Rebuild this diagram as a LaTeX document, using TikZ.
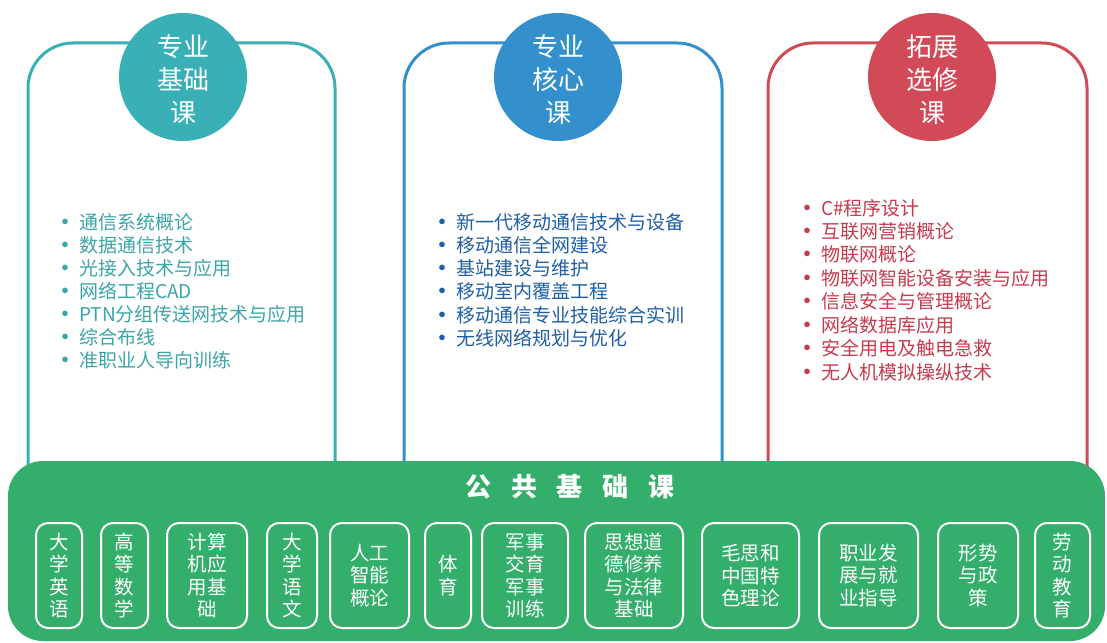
\documentclass[tikz,border=0pt]{standalone}
\usepackage{fontspec}
\setmainfont{Noto Sans CJK SC}
\definecolor{tealc}{RGB}{56,176,182}
\definecolor{bluec}{RGB}{52,144,204}
\definecolor{redc}{RGB}{210,74,88}
\definecolor{greenc}{RGB}{51,174,107}
\definecolor{tealt}{RGB}{60,165,168}
\definecolor{bluet}{RGB}{30,95,165}
\definecolor{redt}{RGB}{200,58,78}
\tikzset{
  panel/.style={line width=3pt, rounded corners=45pt},
  circ/.style={circle, inner sep=0pt, minimum size=128pt},
  circtext/.style={text=white, align=center, font=\fontsize{26}{33}\selectfont, inner sep=0pt},
  item/.style={anchor=west, inner sep=0pt, font=\fontsize{19}{23}\selectfont},
  pbox/.style={draw=white, line width=2pt, rounded corners=12pt, minimum height=105pt,
     inner sep=0pt, align=center, text=white, font=\fontsize{19.5}{22.5}\selectfont},
}
\newcommand{\bul}{\makebox[24pt][l]{\fontsize{20}{20}\selectfont\bfseries •}}
\begin{document}
\begin{tikzpicture}[x=1pt,y=-1pt]
\useasboundingbox (0,0) rectangle (1107,642);
\fill[white] (0,0) rectangle (1107,642);
% panels
\draw[panel, draw=tealc] (28,470) -- (28,43) -- (335,43) -- (335,470);
\draw[panel, draw=bluec] (404,470) -- (404,43) -- (722,43) -- (722,470);
\draw[panel, draw=redc] (768,470) -- (768,43) -- (1087,43) -- (1087,470);
% circles
\node[circ, fill=tealc] (c1) at (183,77) {};
\node[circ, fill=bluec] (c2) at (558,77) {};
\node[circ, fill=redc] (c3) at (932,77) {};
\node[circtext] (t1) at (183,80) {专业\\基础\\课};
\node[circtext] (t2) at (558,80) {专业\\核心\\课};
\node[circtext] (t3) at (932,80) {拓展\\选修\\课};
% lists
\foreach \t [count=\i] in {通信系统概论,数据通信技术,光接入技术与应用,网络工程CAD,PTN分组传送网技术与应用,综合布线,准职业人导向训练}
  \node[item, text=tealt] (a\i) at (55,{222+23*(\i-1)}) {\bul\t};
\foreach \t [count=\i] in {新一代移动通信技术与设备,移动通信全网建设,基站建设与维护,移动室内覆盖工程,移动通信专业技能综合实训,无线网络规划与优化}
  \node[item, text=bluet] (b\i) at (432,{222+23.2*(\i-1)}) {\bul\t};
\foreach \t [count=\i] in {C\#程序设计,互联网营销概论,物联网概论,物联网智能设备安装与应用,信息安全与管理概论,网络数据库应用,安全用电及触电急救,无人机模拟操纵技术}
  \node[item, text=redt] (r\i) at (797,{208+23.4*(\i-1)}) {\bul\t};
% public base
\fill[greenc, rounded corners=35pt] (8,461) rectangle (1105,641);
\node[text=white, font=\fontsize{26}{26}\selectfont\bfseries, inner sep=0pt] (title) at (570,487)
  {公\hspace{20pt}共\hspace{20pt}基\hspace{20pt}础\hspace{20pt}课};
\node[pbox, minimum width=46pt] (p1) at (59,575.5) {大\\学\\英\\语};
\node[pbox, minimum width=47pt] (p2) at (124.5,575.5) {高\\等\\数\\学};
\node[pbox, minimum width=80pt] (p3) at (207,575.5) {计算\\机应\\用基\\础};
\node[pbox, minimum width=50pt] (p4) at (292,575.5) {大\\学\\语\\文};
\node[pbox, minimum width=79pt] (p5) at (369.5,575.5) {人工\\智能\\概论};
\node[pbox, minimum width=46pt] (p6) at (448,575.5) {体\\育};
\node[pbox, minimum width=86pt] (p7) at (525,575.5) {军事\\交育\\军事\\训练};
\node[pbox, minimum width=98pt] (p8) at (634,575.5) {思想道\\德修养\\与法律\\基础};
\node[pbox, minimum width=97pt] (p9) at (750.5,575.5) {毛思和\\中国特\\色理论};
\node[pbox, minimum width=99pt] (p10) at (868.5,575.5) {职业发\\展与就\\业指导};
\node[pbox, minimum width=80pt] (p11) at (978,575.5) {形势\\与政\\策};
\node[pbox, minimum width=55pt] (p12) at (1062.5,575.5) {劳\\动\\教\\育};
\end{tikzpicture}
\end{document}
